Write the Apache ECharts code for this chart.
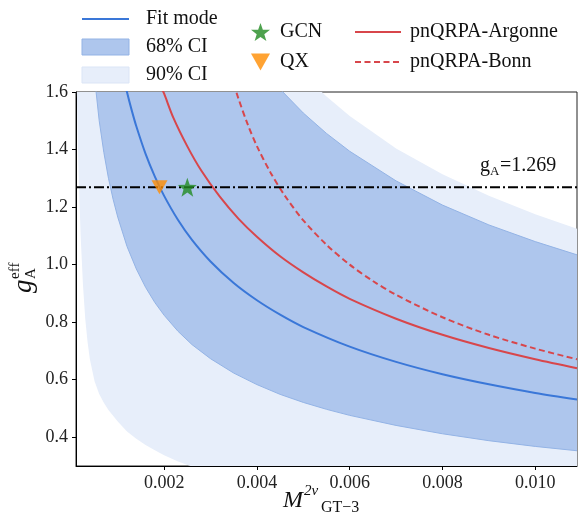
<!DOCTYPE html>
<html>
<head>
<meta charset="utf-8">
<script src="https://cdn.jsdelivr.net/npm/echarts@6/dist/echarts.min.js"></script>
<style>
html,body{margin:0;padding:0;background:#fff;}
#chart{width:584px;height:519px;}
</style>
</head>
<body>
<div id="chart"></div>
<script>
// ---------------- data ----------------
const M_BAND = [0.0001,0.00015,0.0002,0.00025,0.0003,0.00035,0.0004,0.0005,0.0006,0.0007,0.0008,0.0009,0.0010,0.0012,0.0014,0.0016,0.0018,0.0020,0.0023,0.0026,0.0030,0.0035,0.0040,0.0045,0.0050,0.0055,0.0060,0.0070,0.0080,0.0090,0.0100,0.0109];
const CI90_LO = [1.75,1.35,1.10,0.93,0.81,0.73,0.67,0.595,0.55,0.52,0.495,0.475,0.455,0.42,0.395,0.373,0.355,0.337,0.316,0.298,0.278,0.258,0.242,0.228,0.216,0.206,0.197,0.183,0.171,0.161,0.153,0.147];
const CI90_HI = [2.0,2.0,2.0,2.0,2.0,2.0,2.0,2.0,2.0,2.0,2.0,2.0,2.0,2.0,2.0,2.0,2.0,2.0,2.0,2.0,2.0,1.986,1.858,1.752,1.662,1.584,1.517,1.404,1.314,1.239,1.175,1.125];
const CI68_LO = [2.0,2.0,2.0,2.0,2.0,1.97,1.84,1.65,1.50,1.39,1.30,1.227,1.165,1.063,0.985,0.921,0.868,0.824,0.768,0.722,0.673,0.623,0.583,0.549,0.521,0.497,0.476,0.441,0.412,0.388,0.368,0.353];
const CI68_HI = [2.0,2.0,2.0,2.0,2.0,2.0,2.0,2.0,2.0,2.0,2.0,2.0,2.0,2.0,2.0,2.0,2.0,2.0,2.0,2.0,1.972,1.826,1.708,1.61,1.527,1.456,1.394,1.291,1.207,1.138,1.08,1.034];

const M_FIT = [0.0011,0.0012,0.0013,0.0014,0.0016,0.0018,0.0020,0.0023,0.0026,0.0030,0.0035,0.0040,0.0045,0.0050,0.0060,0.0070,0.0080,0.0090,0.0100,0.0109];
const FIT   = [1.670,1.599,1.537,1.481,1.385,1.306,1.239,1.155,1.086,1.011,0.936,0.876,0.826,0.783,0.715,0.662,0.619,0.584,0.554,0.531];

const M_ARG = [0.00195,0.0020,0.0022,0.0025,0.0028,0.0032,0.0036,0.0040,0.0045,0.0050,0.0055,0.0060,0.0070,0.0080,0.0090,0.0100,0.0109];
const ARG   = [1.611,1.594,1.510,1.411,1.327,1.236,1.160,1.097,1.029,0.973,0.924,0.881,0.812,0.756,0.710,0.671,0.640];

const M_BONN = [0.0035,0.0036,0.0038,0.0040,0.0043,0.0046,0.0050,0.0055,0.0060,0.0065,0.0070,0.0080,0.0090,0.0100,0.0109];
const BONN   = [1.629,1.578,1.488,1.412,1.318,1.240,1.154,1.069,1.000,0.943,0.895,0.817,0.756,0.708,0.671];

const GCN = [[0.0025, 1.269]];
const QX  = [[0.0019, 1.269]];
const GA_VALUE = 1.269;

const X_MIN = 0.0001, X_MAX = 0.0109, Y_MIN = 0.3, Y_MAX = 1.6;
const X_TICKS = [0.002,0.004,0.006,0.008,0.010];
const Y_TICKS = [0.4,0.6,0.8,1.0,1.2,1.4,1.6];

// ---------------- styles ----------------
const SERIF = '"Liberation Serif", "DejaVu Serif", serif';
const C_DARK = '#aec6ed', C_DARK_EDGE = '#93b3e5';
const C_LIGHT = '#e7eefa', C_LIGHT_EDGE = '#dbe5f6';
const C_BLUE = '#3a77d8', C_RED = '#d8464b';
const STAR = 'path://M0,-10L2.35,-3.24L9.51,-3.09L3.8,1.24L5.88,8.09L0,4L-5.88,8.09L-3.8,1.24L-9.51,-3.09L-2.35,-3.24Z';
const TRI_DOWN = 'path://M-10,-9L10,-9L0,9Z';

const zip = (xs, ys) => xs.map((x, i) => [x, ys[i]]);
const zip3 = (xs, lo, hi) => xs.map((x, i) => [x, lo[i], hi[i]]);

function bandSeries(name, rows, fill) {
  return {
    name: name, type: 'custom', clip: true, silent: true, z: 1,
    data: rows,
    encode: {x: 0, y: [1, 2]},
    itemStyle: {color: fill},
    renderItem: function (params, api) {
      if (params.dataIndex !== 0) return null;
      const pts = [];
      for (let i = 0; i < rows.length; i++) pts.push(api.coord([rows[i][0], rows[i][2]]));
      for (let i = rows.length - 1; i >= 0; i--) pts.push(api.coord([rows[i][0], rows[i][1]]));
      return {type: 'polygon', shape: {points: pts}, style: {fill: fill}};
    }
  };
}
function edgeSeries(name, xs, ys, color) {
  return {name: name, type: 'line', data: zip(xs, ys), symbol: 'none', silent: true, z: 2,
    lineStyle: {width: 1, color: color}};
}

const chart = echarts.init(document.getElementById('chart'), null, {renderer: 'canvas'});

const hideSym = {opacity: 0};
const option = {
  animation: false,
  backgroundColor: '#fff',
  grid: {left: 76, right: 7, top: 92, bottom: 53, show: true, borderColor: '#222', borderWidth: 1, backgroundColor: 'transparent'},
  xAxis: {
    type: 'value', min: X_MIN, max: X_MAX,
    axisLine: {show: true, lineStyle: {color: '#000', width: 1}},
    splitLine: {show: false},
    axisTick: {show: true, length: 4, lineStyle: {color: '#000'}, customValues: X_TICKS},
    axisLabel: {customValues: X_TICKS, margin: 8, color: '#222', fontFamily: SERIF, fontSize: 18,
      formatter: v => v.toFixed(3)}
  },
  yAxis: {
    type: 'value', min: Y_MIN, max: Y_MAX,
    axisLine: {show: true, lineStyle: {color: '#000', width: 1}},
    splitLine: {show: false},
    axisTick: {show: true, length: 4, lineStyle: {color: '#000'}, customValues: Y_TICKS},
    axisLabel: {customValues: Y_TICKS, margin: 8, color: '#222', fontFamily: SERIF, fontSize: 18,
      formatter: v => v.toFixed(1)}
  },
  legend: [
    {
      orient: 'vertical', left: 81, top: 9, padding: 0, itemWidth: 47, itemHeight: 16, itemGap: 8,
      textStyle: {fontFamily: SERIF, fontSize: 20, color: '#111', padding: [0, 0, 0, 12]},
      selectedMode: false,
      data: [
        {name: 'Fit mode', itemStyle: hideSym},
        {name: '68% CI', icon: 'rect', itemStyle: {color: C_DARK, borderColor: C_DARK_EDGE, borderWidth: 1}},
        {name: '90% CI', icon: 'rect', itemStyle: {color: C_LIGHT, borderColor: C_LIGHT_EDGE, borderWidth: 1}}
      ]
    },
    {
      orient: 'vertical', left: 251, top: 22, padding: 0, itemWidth: 19, itemHeight: 19, itemGap: 10,
      textStyle: {fontFamily: SERIF, fontSize: 20, color: '#111', padding: [0, 0, 0, 5]},
      selectedMode: false,
      data: [
        {name: 'GCN', icon: STAR},
        {name: 'QX', icon: TRI_DOWN}
      ]
    },
    {
      orient: 'vertical', left: 354, top: 22, padding: 0, itemWidth: 46, itemHeight: 19, itemGap: 10,
      textStyle: {fontFamily: SERIF, fontSize: 20, color: '#111', padding: [0, 0, 0, 4]},
      selectedMode: false,
      data: [{name: 'pnQRPA-Argonne', itemStyle: hideSym}, {name: 'pnQRPA-Bonn', itemStyle: hideSym}]
    }
  ],
  series: [
    bandSeries('90% CI', zip3(M_BAND, CI90_LO, CI90_HI), C_LIGHT),
    bandSeries('68% CI', zip3(M_BAND, CI68_LO, CI68_HI), C_DARK),
    edgeSeries('68lo', M_BAND, CI68_LO, C_DARK_EDGE),
    edgeSeries('68hi', M_BAND, CI68_HI, C_DARK_EDGE),
    {name: 'Fit mode', type: 'line', data: zip(M_FIT, FIT), symbol: 'none', smooth: 0.3, z: 4,
      lineStyle: {color: C_BLUE, width: 2}, itemStyle: {color: C_BLUE}},
    {name: 'pnQRPA-Argonne', type: 'line', data: zip(M_ARG, ARG), symbol: 'none', smooth: 0.3, z: 4,
      lineStyle: {color: C_RED, width: 2}, itemStyle: {color: C_RED}},
    {name: 'pnQRPA-Bonn', type: 'line', data: zip(M_BONN, BONN), symbol: 'none', smooth: 0.3, z: 4,
      lineStyle: {color: C_RED, width: 2, type: [6, 3.5]}, itemStyle: {color: C_RED}},
    {name: 'gA', type: 'line', data: [[X_MIN, GA_VALUE], [X_MAX, GA_VALUE]], symbol: 'none', z: 5, silent: true,
      lineStyle: {color: '#000', width: 2, type: [10, 3, 2, 3]}},
    {name: 'QX', type: 'scatter', data: QX, symbol: TRI_DOWN, symbolSize: [16, 14], z: 6,
      itemStyle: {color: '#ff8c00'}},
    {name: 'GCN', type: 'scatter', data: GCN, symbol: STAR, symbolSize: 19, z: 6,
      itemStyle: {color: '#228b22'}}
  ],
  graphic: [
    // g_A = 1.269 annotation
    {type: 'text', x: 480, y: 166, z: 10, style: {text: 'g', font: '20px ' + SERIF, fill: '#111', verticalAlign: 'middle'}},
    {type: 'text', x: 490, y: 172, z: 10, style: {text: 'A', font: '13px ' + SERIF, fill: '#111', verticalAlign: 'middle'}},
    {type: 'text', x: 500, y: 166, z: 10, style: {text: '=1.269', font: '20px ' + SERIF, fill: '#111', verticalAlign: 'middle'}},
    // x axis name: M^{2ν}_{GT-3}
    {type: 'text', x: 283, y: 501, style: {text: 'M', font: 'italic 24px ' + SERIF, fill: '#111', verticalAlign: 'middle'}},
    {type: 'text', x: 304, y: 491, style: {text: '2ν', font: 'italic 15px ' + SERIF, fill: '#111', verticalAlign: 'middle'}},
    {type: 'text', x: 321, y: 508, style: {text: 'GT−3', font: '16px ' + SERIF, fill: '#111', verticalAlign: 'middle'}},
    // y axis name: g_A^eff (rotated)
    {type: 'group', x: 24, y: 279, rotation: Math.PI / 2, children: [
      {type: 'text', x: -14, y: 0, style: {text: 'g', font: 'italic 27px ' + SERIF, fill: '#111', verticalAlign: 'middle'}},
      {type: 'text', x: 0, y: -9, style: {text: 'eff', font: '15px ' + SERIF, fill: '#111', verticalAlign: 'middle'}},
      {type: 'text', x: 0, y: 7, style: {text: 'A', font: '15px ' + SERIF, fill: '#111', verticalAlign: 'middle'}}
    ]}
  ]
};
chart.setOption(option);
</script>
</body>
</html>
